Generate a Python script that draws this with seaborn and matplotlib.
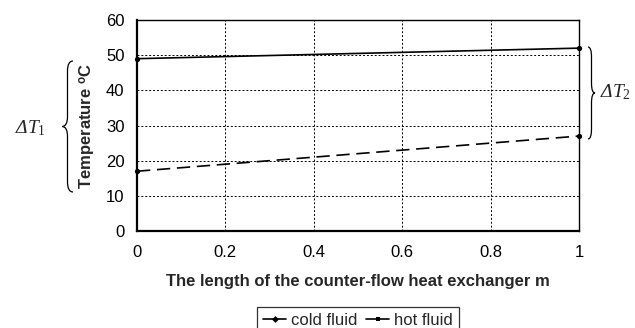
import matplotlib
matplotlib.use("Agg")
import matplotlib.pyplot as plt
import seaborn as sns
import pandas as pd
from matplotlib.path import Path
from matplotlib.patches import PathPatch
from matplotlib.lines import Line2D

length_m = [0, 1]
cold_fluid = [17, 27]
hot_fluid = [49, 52]
x_ticks = [0, 0.2, 0.4, 0.6, 0.8, 1]
x_tick_labels = ["0", "0.2", "0.4", "0.6", "0.8", "1"]
y_ticks = [0, 10, 20, 30, 40, 50, 60]

sns.set_style("white")
plt.rcParams['font.family'] = ['Liberation Sans', 'DejaVu Sans']
plt.rcParams['mathtext.fontset'] = 'custom'
plt.rcParams['mathtext.rm'] = 'Liberation Serif'
plt.rcParams['mathtext.it'] = 'Liberation Serif:italic'

W, H = 635, 328
fig = plt.figure(figsize=(W / 100, H / 100), dpi=100)
ax = fig.add_axes([137 / W, 1 - 231 / H, (579 - 137) / W, (231 - 20) / H])

cold_df = pd.DataFrame({"x": length_m, "y": cold_fluid})
hot_df = pd.DataFrame({"x": length_m, "y": hot_fluid})

sns.lineplot(data=cold_df, x="x", y="y", ax=ax, color="black", lw=1.2,
             marker="o", markersize=3.8, markeredgewidth=0,
             label="cold fluid", legend=False, clip_on=False)
sns.lineplot(data=hot_df, x="x", y="y", ax=ax, color="black", lw=1.2,
             marker="o", markersize=3.8, markeredgewidth=0,
             label="hot fluid", legend=False, clip_on=False)
ax.lines[0].set_dashes([8, 4])

ax.set_xlim(0, 1)
ax.set_ylim(0, 60)
ax.set_xticks(x_ticks)
ax.set_xticklabels(x_tick_labels)
ax.set_yticks(y_ticks)
ax.tick_params(axis="both", direction="out", length=4, width=1, color="black",
               labelsize=12, labelcolor="black", pad=5)
ax.tick_params(axis="x", pad=6)
for s in ax.spines.values():
    s.set_visible(True)
    s.set_color("black")
    s.set_linewidth(1)
ax.spines["left"].set_linewidth(1.6)
ax.spines["bottom"].set_linewidth(1.6)
ax.grid(True, color="black", linestyle=(0, (2, 2)), linewidth=0.7)

ax.set_xlabel("The length of the counter-flow heat exchanger m", fontsize=12,
              fontweight="bold", labelpad=10)
ax.set_ylabel("Temperature $^{\\mathregular{o}}$C", fontsize=12, fontweight="bold",
              labelpad=6)

handles = [Line2D([], [], color="black", lw=1.2, marker="D", markersize=3.5, markeredgewidth=0),
           Line2D([], [], color="black", lw=1.2, marker="s", markersize=3.5, markeredgewidth=0)]
leg = fig.legend(handles, ["cold fluid", "hot fluid"], loc="upper center",
                 bbox_to_anchor=(358 / W, 1 - 307 / H), ncol=2, frameon=True, fancybox=False,
                 fontsize=12, handlelength=1.4, handletextpad=0.3, columnspacing=0.5,
                 borderpad=0.35, borderaxespad=0)
leg.get_frame().set_edgecolor("black")
leg.get_frame().set_linewidth(0.9)


def brace(x_base, x_tip, y_top, y_bot):
    xm = (x_base + x_tip) / 2
    ym = (y_top + y_bot) / 2
    r = 10
    pts = [(x_base, y_top), (xm, y_top), (xm, y_top + r),
           (xm, ym - r), (xm, ym), (x_tip, ym),
           (xm, ym), (xm, ym + r),
           (xm, y_bot - r), (xm, y_bot), (x_base, y_bot)]
    codes = [Path.MOVETO, Path.CURVE3, Path.CURVE3,
             Path.LINETO, Path.CURVE3, Path.CURVE3,
             Path.CURVE3, Path.CURVE3,
             Path.LINETO, Path.CURVE3, Path.CURVE3]
    verts = [(px / W, 1 - py / H) for px, py in pts]
    patch = PathPatch(Path(verts, codes), transform=fig.transFigure,
                      fill=False, edgecolor="black", lw=0.9)
    fig.add_artist(patch)


brace(73, 62, 61, 192)
brace(588, 595, 47, 139)

serif = ["Liberation Serif", "DejaVu Serif"]
fig.text(30 / W, 1 - 128 / H, "Δ$\\mathit{T}_{\\mathit{1}}$", ha="center", va="center",
         fontsize=14, family=serif, style="italic")
fig.text(616 / W, 1 - 92 / H, "Δ$\\mathit{T}_{\\mathit{2}}$", ha="center", va="center",
         fontsize=14, family=serif, style="italic")

fig.savefig("out.png", dpi=100)
